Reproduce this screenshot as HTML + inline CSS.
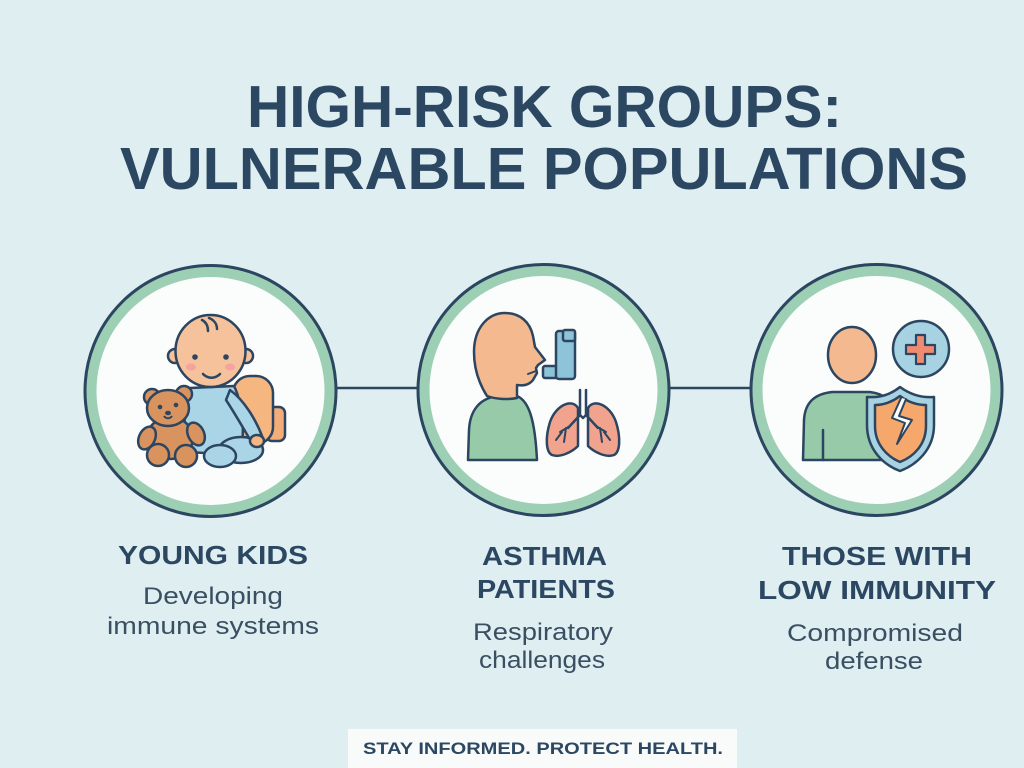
<!DOCTYPE html>
<html><head><meta charset="utf-8"><style>
html,body{margin:0;padding:0;background:#deeef1;}
svg{display:block;}
.t{font-family:"Liberation Sans",sans-serif;font-weight:bold;fill:#2c4761;}
.s{font-family:"Liberation Sans",sans-serif;fill:#3a4f62;}
</style></head><body>
<svg width="1024" height="768" viewBox="0 0 1024 768" xmlns="http://www.w3.org/2000/svg">
<rect width="1024" height="768" fill="#deeef1"/>
<!-- Title -->
<text class="t" x="247" y="127" font-size="59" textLength="595" lengthAdjust="spacingAndGlyphs">HIGH-RISK GROUPS:</text>
<text class="t" x="120" y="189" font-size="59" textLength="848" lengthAdjust="spacingAndGlyphs">VULNERABLE POPULATIONS</text>

<!-- connecting lines -->
<line x1="330" y1="388" x2="425" y2="388" stroke="#2c4560" stroke-width="2.5"/>
<line x1="663" y1="388" x2="757" y2="388" stroke="#2c4560" stroke-width="2.5"/>

<!-- Rings -->
<g stroke="#2c4560" stroke-width="3">
<circle cx="210.5" cy="391" r="125.5" fill="#9dcfb5"/>
<circle cx="543.5" cy="390" r="125.5" fill="#9dcfb5"/>
<circle cx="876.5" cy="390" r="125.5" fill="#9dcfb5"/>
</g>
<circle cx="210.5" cy="391" r="114" fill="#fbfdfc"/>
<circle cx="543.5" cy="390" r="114" fill="#fbfdfc"/>
<circle cx="876.5" cy="390" r="114" fill="#fbfdfc"/>

<!-- Baby icon -->
<g stroke="#2c4560" stroke-width="2.5" stroke-linejoin="round" stroke-linecap="round">
  <!-- backpack -->
  <rect x="266" y="407" width="19" height="34" rx="6" fill="#f4ad78"/>
  <rect x="233" y="376" width="40" height="68" rx="17" fill="#f5b680"/>
  <!-- torso -->
  <path d="M190,388 C184,402 183,432 187,452 L240,455 C246,430 242,402 234,386 Z" fill="#a9d5e6"/>
  <!-- legs -->
  <ellipse cx="241" cy="450" rx="22" ry="13" fill="#a9d5e6"/>
  <ellipse cx="220" cy="456" rx="16" ry="11" fill="#a9d5e6"/>
  <!-- arm -->
  <path d="M230,390 C244,400 256,420 262,436 L252,443 C242,426 234,412 226,400 Z" fill="#a9d5e6"/>
  <ellipse cx="257" cy="441" rx="7" ry="6" fill="#f5b680"/>
  <!-- head -->
  <circle cx="175" cy="356" r="7" fill="#f6c29b"/>
  <circle cx="246" cy="356" r="7" fill="#f6c29b"/>
  <ellipse cx="210.5" cy="351" rx="35" ry="36" fill="#f6c29b"/>
  <path d="M202,320 C206,322 208,326 208,331" fill="none"/>
  <path d="M209,318 C214,320 217,324 217,329" fill="none"/>
  <path d="M203,374 C208,379 215,379 220,374" fill="none"/>
</g>
<circle cx="195" cy="357" r="2.8" fill="#2c4560"/>
<circle cx="226" cy="357" r="2.8" fill="#2c4560"/>
<ellipse cx="191" cy="367" rx="5" ry="3.5" fill="#f4a3a0"/>
<ellipse cx="230" cy="367" rx="5" ry="3.5" fill="#f4a3a0"/>
<!-- Teddy -->
<g stroke="#2c4560" stroke-width="2.5" stroke-linejoin="round">
  <circle cx="152" cy="397" r="8" fill="#d8935f"/>
  <circle cx="184" cy="394" r="8" fill="#d8935f"/>
  <ellipse cx="170" cy="438" rx="23" ry="21" fill="#d8935f"/>
  <ellipse cx="147" cy="438" rx="8" ry="12" fill="#d8935f" transform="rotate(25 147 438)"/>
  <ellipse cx="196" cy="434" rx="8" ry="12" fill="#d8935f" transform="rotate(-25 196 434)"/>
  <circle cx="158" cy="455" r="11" fill="#d8935f"/>
  <circle cx="186" cy="456" r="11" fill="#d8935f"/>
  <ellipse cx="168" cy="408" rx="21" ry="18" fill="#d8935f"/>
  <path d="M164,416 C166,419 170,419 172,416" fill="none" stroke-width="2"/>
</g>
<circle cx="160" cy="407" r="2.3" fill="#2c4560"/>
<circle cx="176" cy="405" r="2.3" fill="#2c4560"/>
<ellipse cx="168" cy="413" rx="3" ry="2.2" fill="#2c4560"/>

<!-- Asthma icon -->
<g stroke="#2c4560" stroke-width="2.5" stroke-linejoin="round" stroke-linecap="round">
  <path d="M468,460 L469,430 C470,410 480,398 498,396 L517,396 C529,401 535,420 537,460 Z" fill="#97caa8"/>
  <path d="M487,396 C480,385 474,370 474,352 C474,328 488,313 505,313 C520,313 530,322 533,336 L535,347 L545,360 L538,365 L536,368 L537,373 L533,380 C529,385 524,386 517,385 L517,398 C507,400 495,399 487,396 Z" fill="#f4b98f"/>
  <path d="M528,374 L536,371" fill="none" stroke-width="2"/>
  <!-- inhaler -->
  <rect x="543" y="366" width="16" height="12" rx="2" fill="#8ec4da"/>
  <rect x="556" y="331" width="19" height="48" rx="3" fill="#8ec4da"/>
  <rect x="563" y="330" width="12" height="11" rx="2" fill="#8ec4da"/>
  <!-- lungs -->
  <path d="M578,408 C572,398 556,405 550,422 C545,438 546,452 552,455 C560,458 572,452 578,446 Z" fill="#f2a38e"/>
  <path d="M588,408 C594,398 610,405 616,422 C621,438 620,452 614,455 C606,458 594,452 588,446 Z" fill="#f2a38e"/>
  <path d="M580,390 L580,415 L568,428 M586,390 L586,415 L598,428" fill="none"/>
  <path d="M580,415 L583,418 L586,415" fill="none"/>
  <path d="M570,426 L560,432 M566,428 L564,442 M562,432 L556,440 M596,426 L606,432 M600,428 L602,442 M604,432 L610,440" fill="none" stroke-width="2"/>
</g>

<!-- Low immunity icon -->
<g stroke="#2c4560" stroke-width="2.5" stroke-linejoin="round" stroke-linecap="round">
  <path d="M803,460 L804,420 C805,402 815,394 832,392 L870,392 C885,394 890,400 892,410 L892,460 Z" fill="#97caa8"/>
  <line x1="823" y1="430" x2="823" y2="460"/>
  <ellipse cx="852" cy="355" rx="24" ry="28" fill="#f4b98f"/>
  <circle cx="921" cy="349" r="28" fill="#a6d2e2"/>
  <path d="M916,335 L925,335 L925,345 L935,345 L935,354 L925,354 L925,364 L916,364 L916,354 L906,354 L906,345 L916,345 Z" fill="#ef8b70" stroke-width="2.2"/>
  <path d="M900,387 C890,395 879,398 867,397 L867,425 C867,450 884,465 900,471 C916,465 934,450 934,425 L934,397 C922,398 911,395 900,387 Z" fill="#a6d2e2"/>
  <path d="M900,396 C892,402 884,405 875,405 L875,426 C875,445 888,457 900,462 C913,457 926,445 926,426 L926,405 C917,405 908,402 900,396 Z" fill="#f5a76c"/>
  <path d="M901,398 L892,418 L905,423 L897,444 L912,420 L899,416 L906,399" fill="#fbfdfc" stroke-width="2"/>
</g>

<!-- Labels -->
<text class="t" x="118" y="564" font-size="26" textLength="190" lengthAdjust="spacingAndGlyphs">YOUNG KIDS</text>
<text class="s" x="143" y="604" font-size="24" textLength="140" lengthAdjust="spacingAndGlyphs">Developing</text>
<text class="s" x="107" y="634" font-size="24" textLength="212" lengthAdjust="spacingAndGlyphs">immune systems</text>

<text class="t" x="482" y="565" font-size="26" textLength="125" lengthAdjust="spacingAndGlyphs">ASTHMA</text>
<text class="t" x="477" y="598" font-size="26" textLength="138" lengthAdjust="spacingAndGlyphs">PATIENTS</text>
<text class="s" x="473" y="640" font-size="24" textLength="140" lengthAdjust="spacingAndGlyphs">Respiratory</text>
<text class="s" x="479" y="668" font-size="24" textLength="126" lengthAdjust="spacingAndGlyphs">challenges</text>

<text class="t" x="782" y="565" font-size="26" textLength="190" lengthAdjust="spacingAndGlyphs">THOSE WITH</text>
<text class="t" x="758" y="599" font-size="26" textLength="238" lengthAdjust="spacingAndGlyphs">LOW IMMUNITY</text>
<text class="s" x="787" y="641" font-size="24" textLength="176" lengthAdjust="spacingAndGlyphs">Compromised</text>
<text class="s" x="825" y="669" font-size="24" textLength="98" lengthAdjust="spacingAndGlyphs">defense</text>

<!-- Footer -->
<rect x="348" y="729" width="389" height="39" fill="#f8fbfa"/>
<text class="t" x="363" y="754" font-size="17" textLength="360" lengthAdjust="spacingAndGlyphs">STAY INFORMED. PROTECT HEALTH.</text>
</svg>
</body></html>
